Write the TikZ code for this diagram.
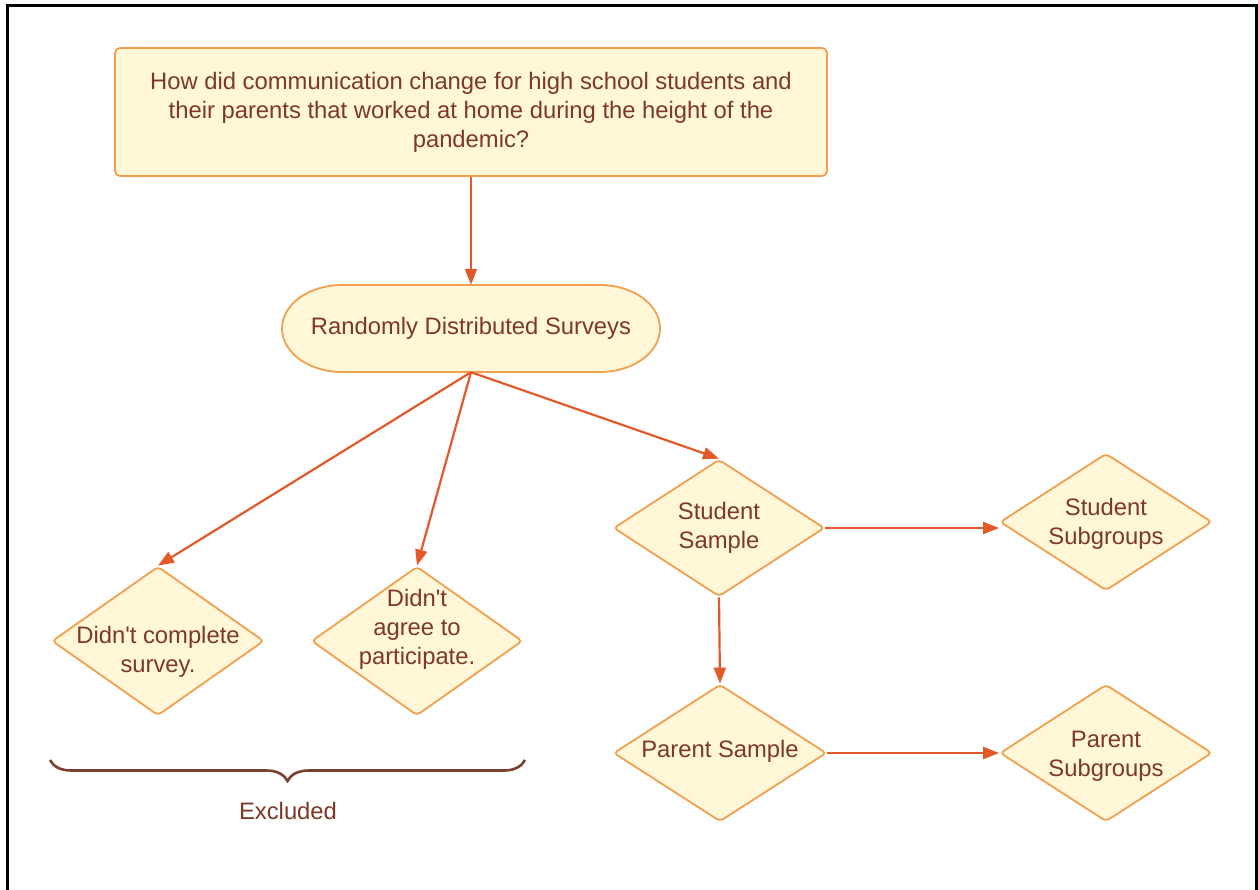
\documentclass[tikz,border=0pt]{standalone}
\usepackage{fontspec}
\setmainfont{Liberation Sans}[Ligatures=TeXOff]
\usetikzlibrary{arrows.meta,shapes.geometric,decorations.pathreplacing}
\definecolor{boxfill}{RGB}{255,247,216}
\definecolor{boxline}{RGB}{242,160,78}
\definecolor{arrowred}{RGB}{226,90,42}
\definecolor{inkbrown}{RGB}{125,56,38}
\definecolor{bracebrown}{RGB}{122,64,50}
\begin{document}
\begin{tikzpicture}[x=1pt,y=-1pt,
  every node/.style={font=\fontsize{23.8pt}{29pt}\selectfont, text=inkbrown},
  qbox/.style={draw=boxline, fill=boxfill, line width=1.8pt, rounded corners=5pt,
    minimum width=712pt, minimum height=128pt, inner sep=0pt, align=center},
  dia/.style={shape=diamond, draw=boxline, fill=boxfill, line width=1.8pt,
    rounded corners=4pt, minimum width=211pt, inner sep=0pt},
  lbl/.style={align=center, inner sep=0pt},
  flow/.style={draw=arrowred, line width=2.2pt, -{Triangle[length=16pt,width=12pt]}},
]
\clip (0,0) rectangle (1258,890);
\fill[white] (0,0) rectangle (1258,890);
% outer frame
\draw[line width=3pt] (7,900) -- (7,6) -- (1256,6) -- (1256,900);

% research question
\node[qbox] (q) at (471,112) {How did communication change for high school students and\\their parents that worked at home during the height of the\\pandemic?};

% survey terminal (stadium with elliptical ends)
\filldraw[draw=boxline, fill=boxfill, line width=1.8pt]
  (342,285) -- (600,285)
  arc[start angle=90, end angle=-90, x radius=60pt, y radius=43.5pt]
  -- (342,372)
  arc[start angle=270, end angle=90, x radius=60pt, y radius=43.5pt] -- cycle;
\node[minimum width=378pt, minimum height=87pt, inner sep=0pt] (rds) at (471,328.5) {Randomly Distributed Surveys};

% decision diamonds
\node[dia, minimum width=212pt, minimum height=149pt] (d1) at (158,641) {};
\node[dia, minimum height=149pt] (d2) at (417,641) {};
\node[dia, minimum height=137pt] (ss) at (719,528) {};
\node[dia, minimum width=212pt, minimum height=137pt] (ssub) at (1106,522) {};
\node[dia, minimum width=213pt, minimum height=137pt] (ps) at (720,753) {};
\node[dia, minimum width=212pt, minimum height=137pt] (psub) at (1106,753) {};

\node[lbl] (d1t) at (158,652) {Didn't complete\\survey.};
\node[lbl] (d2t) at (417,629) {Didn't\\agree to\\participate.};
\node[lbl] (sst) at (719,528) {Student\\Sample};
\node[lbl] (ssubt) at (1106,524) {Student\\Subgroups};
\node[lbl] (pst) at (720,751) {Parent Sample};
\node[lbl] (psubt) at (1106,756) {Parent\\Subgroups};

% connectors
\draw[flow] (q.south) -- (rds.north);
\draw[flow] (rds.south) -- (d1.north);
\draw[flow] (rds.south) -- (d2.north);
\draw[flow] (rds.south) -- (ss.north);
\draw[flow] (ss.east) -- (ss.east -| ssub.west);
\draw[flow] (ss.south) -- (ps.north);
\draw[flow] (ps.east) -- (ps.east -| psub.west);

% excluded group
\coordinate (bl) at (50,760);
\coordinate (br) at (525,760);
\draw[bracebrown, line width=2.6pt, decorate, decoration={brace, amplitude=21pt}] (br) -- (bl);
\node (ex) at (288,811) {Excluded};
\end{tikzpicture}
\end{document}
